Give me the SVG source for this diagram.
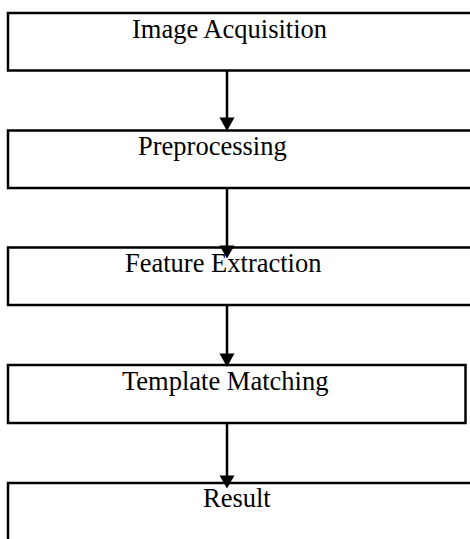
<svg xmlns="http://www.w3.org/2000/svg" width="470" height="539" viewBox="0 0 470 539">
<defs>
<style>
.box{fill:#fff;stroke:#000;stroke-width:2.5}
.lbl{font-family:"Liberation Serif","Times New Roman",serif;font-size:26.5px;fill:#000}
.con{stroke:#000;stroke-width:2.5;fill:none}
.head{fill:#000}
</style>
</defs>
<rect width="470" height="539" fill="#fff"/>
<g id="n1"><rect class="box" x="8" y="13" width="470" height="57.5"/><text class="lbl" x="132" y="38">Image Acquisition</text></g>
<g id="n2"><rect class="box" x="8" y="130.5" width="470" height="57.5"/><text class="lbl" x="138" y="155">Preprocessing</text></g>
<g id="n3"><rect class="box" x="8" y="247.5" width="470" height="57.5"/><text class="lbl" x="125" y="272">Feature Extraction</text></g>
<g id="n4"><rect class="box" x="8" y="365" width="457.5" height="58"/><text class="lbl" x="122" y="390">Template Matching</text></g>
<g id="n5"><rect class="box" x="8" y="483" width="470" height="80"/><text class="lbl" x="203" y="507">Result</text></g>
<g id="connectors">
<line class="con" x1="227" y1="70.5" x2="227" y2="119"/><polygon class="head" points="219.5,117.5 234.5,117.5 227,131"/>
<line class="con" x1="227" y1="188" x2="227" y2="247"/><polygon class="head" points="219.5,245.5 234.5,245.5 227,258.5"/>
<line class="con" x1="227" y1="305" x2="227" y2="355"/><polygon class="head" points="219.5,353.5 234.5,353.5 227,367"/>
<line class="con" x1="227" y1="423" x2="227" y2="477"/><polygon class="head" points="219.5,475.5 234.5,475.5 227,488.5"/>
</g>
</svg>
